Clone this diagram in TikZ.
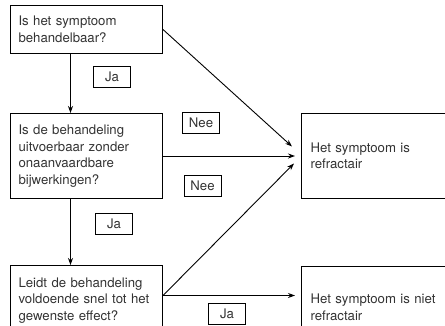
\documentclass[tikz,border=0pt]{standalone}
\usepackage{fontspec}
\setmainfont{TeX Gyre Heros}
\usetikzlibrary{arrows.meta, positioning}
\tikzset{
    question/.style={rectangle, draw=black, line width=1pt, text width=136pt, inner xsep=8pt, align=left, font=\fontsize{13.2}{16.5}\selectfont, text=black!80},
    outcome/.style={rectangle, draw=black, line width=1pt, text width=127pt, inner xsep=9pt, minimum height=85pt, align=left, font=\fontsize{13.2}{16.5}\selectfont, text=black!80},
    answer/.style={rectangle, draw=black, line width=0.8pt, minimum width=37pt, minimum height=21pt, inner sep=0pt, font=\fontsize{13.2}{16.5}\selectfont, text=black!80},
    arrow/.style={line width=0.9pt,-{Stealth[length=7pt,width=5pt]}}
}
\begin{document}
\begin{tikzpicture}[x=1pt, y=-1pt]
    \useasboundingbox (0,0) rectangle (445,325);
    \clip (0,0) rectangle (445,325);
    \node (q1) [question, minimum height=48pt, anchor=north west] at (10,5) {Is het symptoom\\behandelbaar?};
    \node (q2) [question, minimum height=85pt, below=59pt of q1] {Is de behandeling\\uitvoerbaar zonder\\onaanvaardbare\\bijwerkingen?};
    \node (q3) [question, minimum height=70pt, below=66pt of q2] {Leidt de behandeling\\voldoende snel tot het\\gewenste effect?};
    \node (refr) [outcome, right=138pt of q2] {Het symptoom is\\refractair};
    \node (nietrefr) [outcome, minimum height=82pt, below=67pt of refr] {Het symptoom is niet\\refractair};

    \node (ja1) [answer] at (112,77) {Ja};
    \node (ja2) [answer] at (114,224) {Ja};
    \node (ja3) [answer] at (227,314) {Ja};
    \node (nee1) [answer] at (201,123) {Nee};
    \node (nee2) [answer] at (202.5,186) {Nee};

    \draw [arrow] ([xshift=-16pt]q1.south) -- ([xshift=-16pt]q2.north);
    \draw [arrow] ([xshift=-16pt]q2.south) -- ([xshift=-16pt]q3.north);
    \draw [arrow] (q1.east) -- ([xshift=-9pt,yshift=9.5pt]refr.west);
    \draw [arrow] (q2.east) -- ([xshift=-6pt]refr.west);
    \draw [arrow] ([yshift=5pt]q3.east) -- ([xshift=-7pt,yshift=-7.5pt]refr.west);
    \draw [arrow] ([yshift=5pt]q3.east) -- ([xshift=-6pt,yshift=12pt]nietrefr.west);
\end{tikzpicture}
\end{document}
